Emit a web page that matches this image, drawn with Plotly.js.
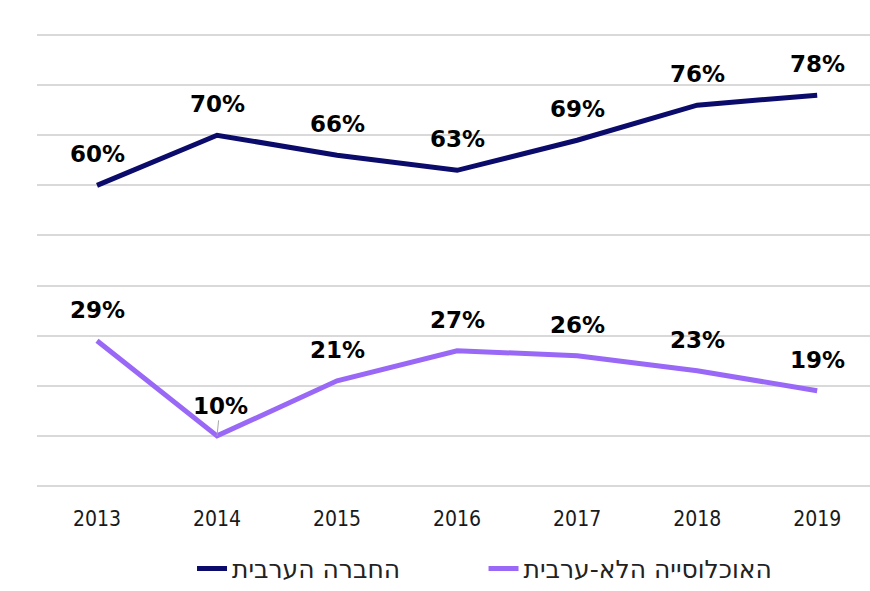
<!DOCTYPE html>
<html>
<head>
<meta charset="utf-8">
<script src="https://cdn.plot.ly/plotly-3.0.1.min.js"></script>
<style>
  html, body { margin: 0; padding: 0; background: #fff; }
  #chart { width: 870px; height: 591px; }
</style>
</head>
<body>
<div id="chart"></div>
<script>
// years on the x axis
const years = ['2013', '2014', '2015', '2016', '2017', '2018', '2019'];

// share (%) per year
const arabSociety = [60, 70, 66, 63, 69, 76, 78];
const nonArabPopulation = [29, 10, 21, 27, 26, 23, 19];

const arabName = 'החברה הערבית';
const nonArabName = 'האוכלוסייה הלא-ערבית';

const navy = '#0b0b6b';
const purple = '#9a68f6';

// each series gets its own legend box so the two entries can be spaced like the original
const traces = [
    {
        x: years,
        y: arabSociety,
        name: arabName,
        mode: 'lines',
        type: 'scatter',
        line: { color: navy, width: 5 },
        legend: 'legend',
        hoverinfo: 'skip'
    },
    {
        x: years,
        y: nonArabPopulation,
        name: nonArabName,
        mode: 'lines',
        type: 'scatter',
        line: { color: purple, width: 5 },
        legend: 'legend2',
        hoverinfo: 'skip'
    }
];

// value labels sit ~31px above each point (x given as category index)
const labelFont = { family: 'DejaVu Sans, Verdana, sans-serif', size: 23, color: '#000' };

const makeLabels = (values) => values.map((v, i) => ({
    x: i,
    y: v,
    xref: 'x',
    yref: 'y',
    text: '<b>' + v + '%</b>',
    showarrow: false,
    yshift: 31,
    font: labelFont
}));

const annotations = makeLabels(arabSociety).concat(makeLabels(nonArabPopulation));

// the 2014 label of the lower series has a small leader line
const leader = annotations[arabSociety.length + 1];
leader.showarrow = true;
leader.arrowhead = 0;
leader.arrowwidth = 1;
leader.arrowcolor = '#a6a6a6';
leader.ax = 3;
leader.ay = -30;
leader.yshift = 0;

const legendFont = { family: 'DejaVu Sans, sans-serif', size: 25, color: '#222' };

const layout = {
    width: 870,
    height: 591,
    margin: { l: 37, r: 0, t: 30, b: 105, autoexpand: false },
    paper_bgcolor: '#fff',
    plot_bgcolor: '#fff',
    showlegend: true,
    legend: {
        orientation: 'h',
        x: 0.443,
        xanchor: 'right',
        y: -0.232,
        yanchor: 'bottom',
        font: legendFont,
        itemwidth: 30
    },
    legend2: {
        orientation: 'h',
        x: 0.889,
        xanchor: 'right',
        y: -0.232,
        yanchor: 'bottom',
        font: legendFont,
        itemwidth: 30
    },
    xaxis: {
        type: 'category',
        range: [-0.5, 6.44],
        showgrid: false,
        zeroline: false,
        showline: false,
        ticks: '',
        tickfont: { family: 'DejaVu Sans Condensed, DejaVu Sans, sans-serif', size: 21, color: '#1a1a1a' },
        ticklabelstandoff: 18
    },
    yaxis: {
        range: [0, 91],
        dtick: 10,
        showgrid: true,
        gridcolor: '#d9d9d9',
        gridwidth: 2,
        zeroline: true,
        zerolinecolor: '#d9d9d9',
        zerolinewidth: 2,
        showticklabels: false,
        ticks: ''
    },
    annotations: annotations
};

Plotly.newPlot('chart', traces, layout, { displayModeBar: false, staticPlot: true });
</script>
</body>
</html>
